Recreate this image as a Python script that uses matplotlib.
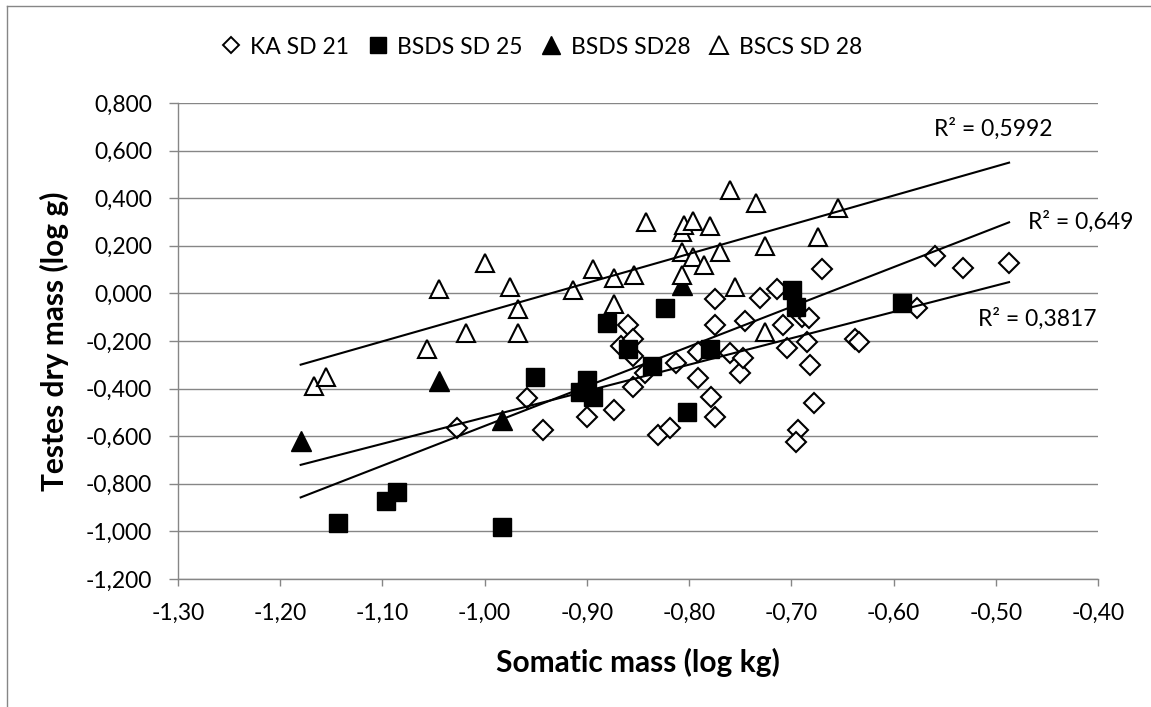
import matplotlib
matplotlib.use("Agg")
import matplotlib.pyplot as plt
from matplotlib.ticker import FuncFormatter
from matplotlib.lines import Line2D
import numpy as np

# ---------------- data ----------------
ka_x = [-1.027, -0.959, -0.943, -0.900, -0.905, -0.873, -0.855, -0.860, -0.867, -0.855,
        -0.843, -0.830, -0.819, -0.813, -0.791, -0.791, -0.779, -0.775, -0.775, -0.775,
        -0.760, -0.750, -0.747, -0.745, -0.731, -0.714, -0.708, -0.704, -0.690, -0.683,
        -0.685, -0.682, -0.678, -0.693, -0.695, -0.670, -0.638, -0.634, -0.577, -0.559,
        -0.532, -0.487, -0.855]
ka_y = [-0.564, -0.441, -0.574, -0.518, -0.405, -0.489, -0.394, -0.132, -0.222, -0.193,
        -0.336, -0.595, -0.567, -0.294, -0.245, -0.357, -0.434, -0.518, -0.025, -0.133,
        -0.252, -0.336, -0.273, -0.114, -0.021, 0.017, -0.133, -0.231, -0.100, -0.105,
        -0.203, -0.301, -0.459, -0.574, -0.623, 0.101, -0.193, -0.203, -0.063, 0.157,
        0.105, 0.126, -0.262]

bsds25_x = [-1.143, -1.097, -1.086, -0.983, -0.951, -0.907, -0.900, -0.894, -0.880, -0.860,
            -0.836, -0.824, -0.802, -0.780, -0.699, -0.695, -0.592]
bsds25_y = [-0.966, -0.874, -0.834, -0.980, -0.350, -0.413, -0.364, -0.434, -0.126, -0.234,
            -0.304, -0.060, -0.497, -0.235, 0.014, -0.056, -0.042]

bsds28_x = [-1.180, -1.045, -0.983, -0.807]
bsds28_y = [-0.620, -0.370, -0.532, 0.035]

bscs_x = [-1.167, -1.155, -1.056, -1.045, -1.018, -1.000, -0.975, -0.967, -0.967, -0.914,
          -0.894, -0.873, -0.873, -0.854, -0.842, -0.807, -0.805, -0.796, -0.780, -0.807,
          -0.796, -0.770, -0.785, -0.807, -0.760, -0.735, -0.755, -0.726, -0.726, -0.674,
          -0.654]
bscs_y = [-0.388, -0.352, -0.235, 0.017, -0.168, 0.126, 0.028, -0.067, -0.165, 0.014,
          0.101, 0.063, -0.045, 0.077, 0.299, 0.259, 0.287, 0.306, 0.285, 0.175,
          0.154, 0.175, 0.119, 0.077, 0.434, 0.379, 0.025, 0.199, -0.161, 0.238,
          0.357]

series_names = ["KA SD 21", "BSDS SD 25", "BSDS SD28", "BSCS SD 28"]

# trend lines (slope, intercept, x-range) and their R² labels
trend_slope = [1.225, 1.668, 1.108]
trend_intercept = [1.146, 1.111, 0.587]
trend_x0 = -1.180
trend_x1 = -0.487
r2_text = ["R² = 0,5992", "R² = 0,649", "R² = 0,3817"]
r2_x = [-0.502, -0.417, -0.459]
r2_y = [0.690, 0.299, -0.105]

x_ticks = [-1.30, -1.20, -1.10, -1.00, -0.90, -0.80, -0.70, -0.60, -0.50, -0.40]
y_ticks = [-1.2, -1.0, -0.8, -0.6, -0.4, -0.2, 0.0, 0.2, 0.4, 0.6, 0.8]

# ---------------- figure ----------------
W, H = 1151, 707
DPI = 100
plt.rcParams['font.family'] = ['Lato', 'DejaVu Sans']
fig = plt.figure(figsize=(W / DPI, H / DPI), dpi=DPI)
fig.patch.set_facecolor('white')

L, R, T, B = 178, 1098, 103, 579
ax = fig.add_axes([L / W, 1 - B / H, (R - L) / W, (B - T) / H])
ax.set_xlim(x_ticks[0], x_ticks[-1])
ax.set_ylim(y_ticks[0], y_ticks[-1])

grey = '#868686'
ax.set_yticks(y_ticks)
ax.set_xticks(x_ticks)
ax.yaxis.grid(True, color=grey, lw=1.0)
ax.xaxis.grid(False)
ax.set_axisbelow(True)
for s in ['top', 'right']:
    ax.spines[s].set_visible(False)
for s in ['left', 'bottom']:
    ax.spines[s].set_color(grey)
    ax.spines[s].set_linewidth(1.0)

ax.yaxis.set_major_formatter(FuncFormatter(lambda v, p: f"{v:.3f}".replace('.', ',')))
ax.xaxis.set_major_formatter(FuncFormatter(lambda v, p: f"{v:.2f}".replace('.', ',')))
ax.tick_params(axis='y', direction='out', length=6.5, width=1.0, color=grey,
               labelsize=16.5, pad=12, labelcolor='black')
ax.tick_params(axis='x', direction='out', length=5, width=1.0, color=grey,
               labelsize=16.5, pad=12, labelcolor='black')

mew = 1.5
ax.plot(ka_x, ka_y, linestyle='none', marker='D', ms=10.2, mfc='white', mec='black',
        mew=mew, zorder=3, label=series_names[0])
ax.plot(bsds25_x, bsds25_y, linestyle='none', marker='s', ms=13.5, mfc='black', mec='black',
        mew=1.0, zorder=4, label=series_names[1])
ax.plot(bsds28_x, bsds28_y, linestyle='none', marker='^', ms=14, mfc='black', mec='black',
        mew=1.0, zorder=5, label=series_names[2])
ax.plot(bscs_x, bscs_y, linestyle='none', marker='^', ms=13.5, mfc='white', mec='black',
        mew=mew, zorder=6, label=series_names[3])

xs = np.array([trend_x0, trend_x1])
for m, c in zip(trend_slope, trend_intercept):
    ax.plot(xs, m * xs + c, color='black', lw=1.5, zorder=7)

for t, tx, ty in zip(r2_text, r2_x, r2_y):
    ax.text(tx, ty, t, ha='center', va='center', fontsize=16.5, clip_on=False, zorder=8)

# legend
handles = [
    Line2D([], [], linestyle='none', marker='D', ms=8.5, mfc='white', mec='black', mew=1.4),
    Line2D([], [], linestyle='none', marker='s', ms=12, mfc='black', mec='black'),
    Line2D([], [], linestyle='none', marker='^', ms=12.5, mfc='black', mec='black'),
    Line2D([], [], linestyle='none', marker='^', ms=12.5, mfc='white', mec='black', mew=1.4),
]
fig.legend(handles, series_names, loc='center', bbox_to_anchor=(541 / W, 1 - 47 / H),
           ncol=4, frameon=False, fontsize=16.5, handletextpad=0.4, columnspacing=0.8,
           handlelength=0.9, borderaxespad=0)

# axis titles
fig.text(638 / W, 1 - 662 / H, "Somatic mass (log kg)", ha='center', va='center',
         fontsize=21.5, fontweight='bold')
fig.text(54 / W, 1 - 341 / H, "Testes dry mass (log g)", ha='center', va='center',
         fontsize=21.5, fontweight='bold', rotation=90)

# outer chart border (left and top visible in the reference)
fig.add_artist(Line2D([7 / W, 7 / W], [0, 1 - 6 / H], color=grey, lw=1.0,
                      transform=fig.transFigure))
fig.add_artist(Line2D([7 / W, 1], [1 - 6 / H, 1 - 6 / H], color=grey, lw=1.0,
                      transform=fig.transFigure))

fig.savefig('out.png', dpi=DPI, facecolor='white')
